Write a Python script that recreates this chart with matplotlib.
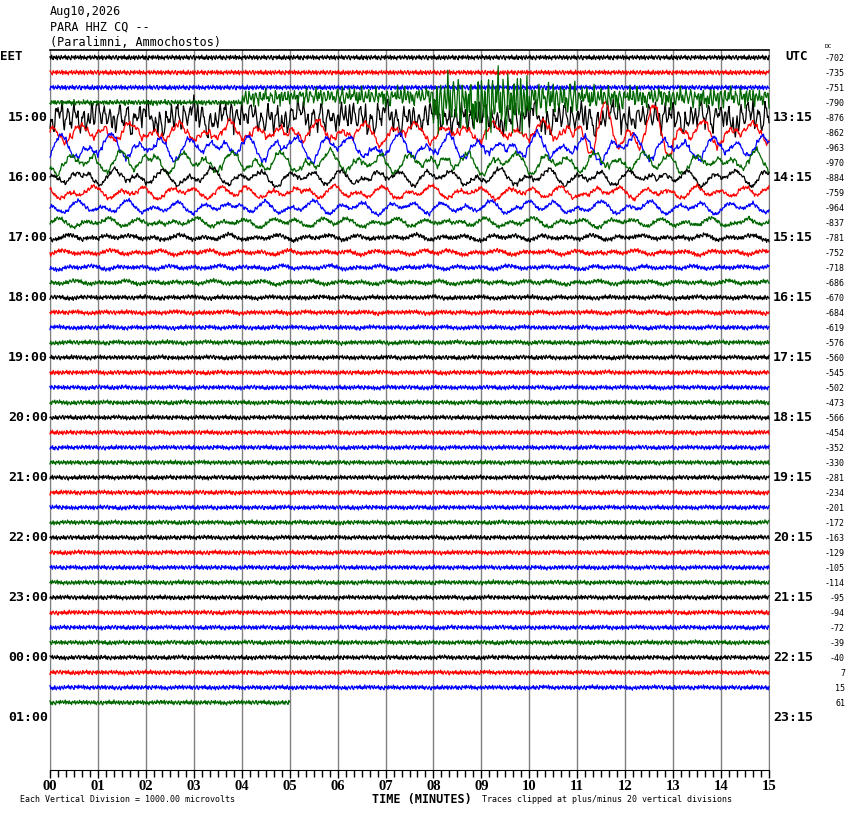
import numpy as np
import matplotlib
matplotlib.use("Agg")
import matplotlib.pyplot as plt

# header text
date_text = "Aug10,2026"
station_text = "PARA HHZ CQ --"
place_text = "(Paralimni, Ammochostos)"

trace_colors = ["#000000", "#ff0000", "#0000ff", "#006600"]
eet_labels = ["15:00", "16:00", "17:00", "18:00", "19:00", "20:00",
              "21:00", "22:00", "23:00", "00:00", "01:00"]
utc_labels = ["13:15", "14:15", "15:15", "16:15", "17:15", "18:15",
              "19:15", "20:15", "21:15", "22:15", "23:15"]
dc_offsets = [-702, -735, -751, -790, -876, -862, -963, -970, -884, -759,
              -964, -837, -781, -752, -718, -686, -670, -684, -619, -576,
              -560, -545, -502, -473, -566, -454, -352, -330, -281, -234,
              -201, -172, -163, -129, -105, -114, -95, -94, -72, -39,
              -40, 7, 15, 61]
last_trace_end = 5.0   # minutes of data in the last line

# trace amplitudes, in pixels (one line = 15 px)
hf_amp = [2.6, 2.6, 2.6, 2.6, 4.0, 1.8, 1.8, 1.8, 1.8, 1.8,
          1.8, 2.0, 2.3, 2.3, 2.3, 2.3, 2.4, 2.4, 2.4, 2.4,
          2.4, 2.4, 2.4, 2.4, 2.4, 2.4, 2.4, 2.4, 2.4, 2.4,
          2.4, 2.4, 2.4, 2.4, 2.4, 2.4, 2.4, 2.4, 2.4, 2.4,
          2.4, 2.4, 2.4, 2.4]
mid_amp = [0, 0, 0, 0, 17, 4, 3, 3, 2, 1.5,
           1, 1, 0.5, 0, 0, 0, 0, 0, 0, 0,
           0, 0, 0, 0, 0, 0, 0, 0, 0, 0,
           0, 0, 0, 0, 0, 0, 0, 0, 0, 0,
           0, 0, 0, 0]
lp_amp = [0, 0, 0, 0, 8, 11, 14, 12, 9, 7,
          7, 5, 3, 2.5, 2, 2, 1, 1, 0.8, 0.8,
          0.6, 0.6, 0.6, 0.6, 0.5, 0.5, 0.5, 0.5, 0.5, 0.5,
          0.5, 0.5, 0.5, 0.5, 0.5, 0.5, 0.5, 0.5, 0.5, 0.5,
          0.5, 0.5, 0.5, 0.5]
# per-minute envelopes for the lines hit by the event (minutes 0..14)
green_1445_mid = [1, 1, 1, 1, 9, 10, 10, 11, 34, 40, 20, 13, 12, 12, 12]
green_1445_bias = [0, 0, 0, 0, 5, 6, 6, 6, 1, 0, 4, 5, 5, 5, 5]
red_1515_lp = [11, 11, 11, 11, 11, 11, 11, 11, 11, 11, 12, 30, 28, 14, 11]

# wiggle shapes (unit amplitude), typed by eye from the record
hf_shape = [0.3, -0.6, 0.9, -0.2, -0.8, 0.5, 0.1, -0.4, 0.7, -0.9, 0.2, 0.6,
            -0.3, -0.7, 0.8, 0.0, -0.5, 0.4, -0.1, 0.9, -0.6, 0.3, -0.8, 0.6,
            0.2, -0.4, -0.9, 0.7, 0.1, -0.2, 0.5, -0.7, 0.8, -0.3, 0.0, 0.6,
            -0.5, -0.1, 0.9, -0.8, 0.4, 0.2, -0.6, 0.7, -0.4, 0.1, -0.9, 0.5,
            0.3, -0.2, 0.8, -0.7, 0.0, 0.6, -0.3, -0.5, 0.9, -0.1, 0.4, -0.8,
            0.2, 0.7, -0.6, 0.3, -0.4, 0.8, -0.9, 0.1, 0.5, -0.2, -0.7, 0.6,
            0.0, -0.3, 0.9, -0.5, 0.4, -0.8, 0.2, 0.7, -0.1, -0.6, 0.3, 0.8,
            -0.4, -0.9, 0.5, 0.1, -0.2, 0.6, -0.7, 0.4, -0.3, 0.9, -0.5, 0.2,
            -0.8]
lp_shape = [0.0, 0.7, 0.9, 0.2, -0.6, -0.8, -0.1, 0.5, 1.0, 0.4, -0.3, -0.9,
            -0.5, 0.2, 0.6, 0.3, -0.4, -0.7, -0.2, 0.4, 0.8, 0.6, -0.1, -0.8,
            -1.0, -0.3, 0.5, 0.7, 0.1, -0.5, -0.6, 0.0, 0.8, 0.9, 0.3, -0.4,
            -0.9, -0.6, 0.1, 0.6, 0.4, -0.2, -0.7, -0.3, 0.3, 0.9, 0.7, 0.0,
            -0.6, -0.9, -0.2, 0.4, 0.6, 0.2, -0.5, -0.8, -0.4, 0.3, 1.0, 0.5,
            -0.2, -0.7, -0.5, 0.1, 0.7, 0.8, 0.1, -0.6, -1.0, -0.4, 0.2, 0.5]

W, H = 850, 814
fig = plt.figure(figsize=(W / 100, H / 100), dpi=100)
ax = fig.add_axes([50 / W, 1 - 770 / H, 719 / W, 720 / H])

hf = np.array(hf_shape)
lp = np.array(lp_shape)
sec = np.arange(0, 901)
px = 15.0

for r in range(len(dc_offsets)):
    s = sec if r < len(dc_offsets) - 1 else sec[sec <= last_trace_end * 60]
    minute = np.minimum(s // 60, 14).astype(int)
    hfv = hf[(s + 23 * r) % len(hf)]
    step = 1.5 if r == 3 else 2.5
    midv = np.interp(s / step + 11 * r, np.arange(len(hf)), hf, period=len(hf))
    lpv = (0.7 * np.interp(s / 5.0 + 17 * r, np.arange(len(lp)), lp, period=len(lp))
           + 0.5 * np.interp(s / 9.0 + 29 * r, np.arange(len(lp)), lp[::-1],
                             period=len(lp)))
    if r == 3:
        m_env = np.array(green_1445_mid)[minute]
        bias = np.array(green_1445_bias)[minute]
    else:
        m_env = mid_amp[r]
        bias = 0
    l_env = np.array(red_1515_lp)[minute] if r == 5 else lp_amp[r]
    disp = hf_amp[r] * hfv + m_env * midv + l_env * lpv + bias
    ax.plot(s / 60.0, r - disp / px, color=trace_colors[r % 4], lw=0.9,
            clip_on=False, zorder=4 if r == 3 else 3)

ax.set_xlim(0, 15)
ax.set_ylim(47.5, -0.5)
ax.set_yticks([])
ax.set_xticks(range(16))
ax.set_xticklabels(["%02d" % m for m in range(16)], fontsize=10.5,
                   fontweight="bold", family="Liberation Serif")
ax.set_xticks(np.arange(0, 15.01, 1 / 6), minor=True)
ax.tick_params(axis="x", which="major", direction="out", length=6, width=1,
               pad=1)
ax.tick_params(axis="x", which="minor", direction="out", length=5, width=1)
ax.grid(True, axis="x", which="major", color="#808080", lw=1, zorder=1)
for side in ["left", "right"]:
    ax.spines[side].set_color("#808080")
ax.spines["top"].set_linewidth(1.2)

mono = "DejaVu Sans Mono"


def put(x, y, txt, **kw):
    fig.text(x / W, 1 - y / H, txt, va="center", family=mono, **kw)


put(50, 12, date_text, fontsize=8.5)
put(50, 27, station_text, fontsize=8.5)
put(50, 42, place_text, fontsize=8.5)
put(0, 57, "EET", fontsize=9, fontweight="bold")
put(785, 57, "UTC", fontsize=9, fontweight="bold")
put(825, 47, "DC", fontsize=4.5)

for k, (el, ul) in enumerate(zip(eet_labels, utc_labels)):
    y = 57.5 + 15 * 4 * (k + 1)
    put(48, y, el, fontsize=9.5, fontweight="bold", ha="right")
    put(773, y, ul, fontsize=9.5, fontweight="bold", ha="left")

for r, dc in enumerate(dc_offsets):
    put(845, 58.5 + 15 * r, str(dc), fontsize=6, ha="right")

put(422, 799, "TIME (MINUTES)", fontsize=8.5, fontweight="bold", ha="center")
put(20, 800, "Each Vertical Division = 1000.00 microvolts", fontsize=6)
put(482, 800, "Traces clipped at plus/minus 20 vertical divisions", fontsize=6)

fig.savefig("out.png", dpi=100)
